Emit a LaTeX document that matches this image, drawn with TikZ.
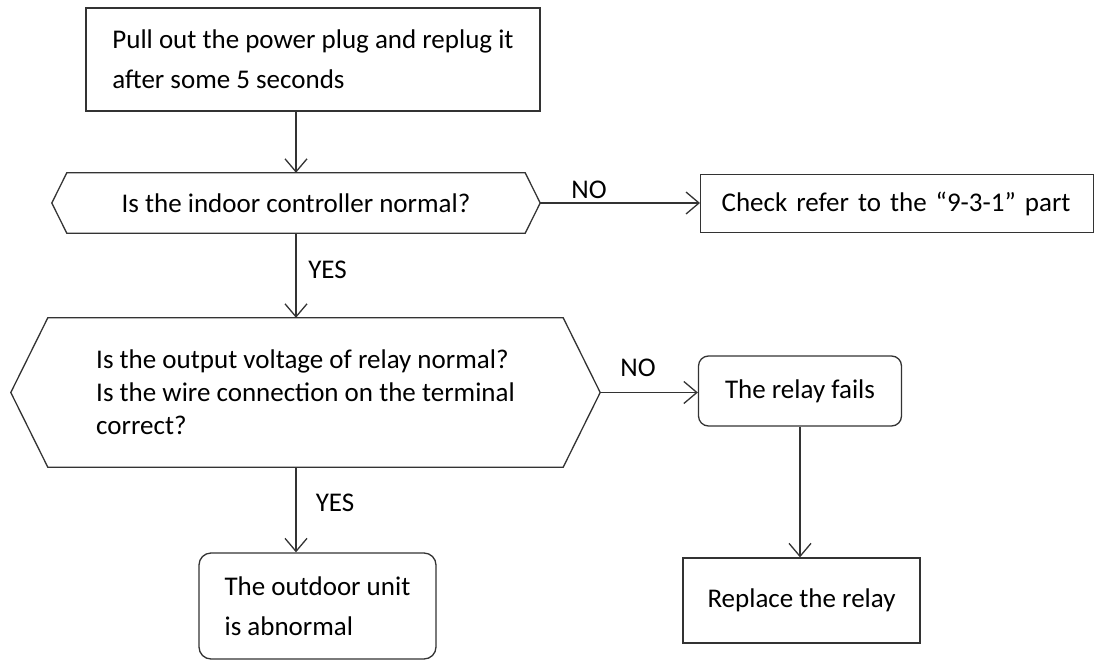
\documentclass[tikz,border=0pt]{standalone}
\usepackage{fontspec}
\setmainfont{Carlito}
\usetikzlibrary{arrows.meta,calc}
\definecolor{ln}{HTML}{333333}
\begin{document}
\begin{tikzpicture}[x=1pt,y=-1pt,
  font=\fontsize{27}{40}\selectfont,
  box/.style={draw=ln, line width=1.3pt, inner sep=0pt},
  rbox/.style={box, rounded corners=12pt},
  hexnode/.style={inner sep=0pt},
  hexline/.style={draw=ln, line width=1.3pt},
  conn/.style={draw=ln, line width=1.3pt, -{Straight Barb[length=13pt,width=22pt]}},
  lab/.style={inner sep=0pt}]
\useasboundingbox (0,0) rectangle (1094,661);

% start box
\node[box, minimum width=454, minimum height=103, align=left] (b1) at (313,59.5)
  {Pull out the power plug and replug it\\after some 5 seconds};

% first decision
\node[hexnode, minimum width=488, minimum height=60] (q1) at (296,203)
  {Is the indoor controller normal?};
\draw[hexline] (q1.west) -- ([xshift=15pt]q1.north west) -- ([xshift=-15pt]q1.north east)
  -- (q1.east) -- ([xshift=-15pt]q1.south east) -- ([xshift=15pt]q1.south west) -- cycle;

% check box
\node[box, anchor=west, minimum height=58, text width=351, inner xsep=21pt, align=left] (c1) at (700,203.5)
  {Check refer to the “9-3-1” part};

% second decision
\node[hexnode, minimum width=589, minimum height=149, align=left,
  font=\fontsize{27}{33}\selectfont] (q2) at (305.5,392.5)
  {Is the output voltage of relay normal?\\Is the wire connection on the terminal\\correct?};
\draw[hexline] (q2.west) -- ([xshift=37pt]q2.north west) -- ([xshift=-37pt]q2.north east)
  -- (q2.east) -- ([xshift=-37pt]q2.south east) -- ([xshift=37pt]q2.south west) -- cycle;

% relay fails
\node[rbox, rounded corners=10pt, minimum width=203, minimum height=70] (r1) at (800,391)
  {The relay fails};

% replace
\node[box, minimum width=237, minimum height=85] (r2) at (801.5,600.5)
  {Replace the relay};

% outdoor
\node[rbox, minimum width=237, minimum height=106, align=left] (o1) at (317.5,606)
  {The outdoor unit\\is abnormal};

% connectors
\draw[conn] (q1.north |- b1.south) -- (q1.north);
\draw[conn] (q1.east) -- (q1.east -| c1.west);
\draw[conn] (q1.south) -- (q1.south |- q2.north);
\draw[conn] (q2.east) -- (q2.east -| r1.west);
\draw[conn] (r1.south) -- (r1.south |- r2.north);
\draw[conn] (q1.south |- q2.south) -- (q1.south |- o1.north);

% labels
\node[lab] (no1) at (589,190) {NO};
\node[lab] (yes1) at (327.5,270) {YES};
\node[lab] (no2) at (638,368) {NO};
\node[lab] (yes2) at (335,503) {YES};
\end{tikzpicture}
\end{document}
